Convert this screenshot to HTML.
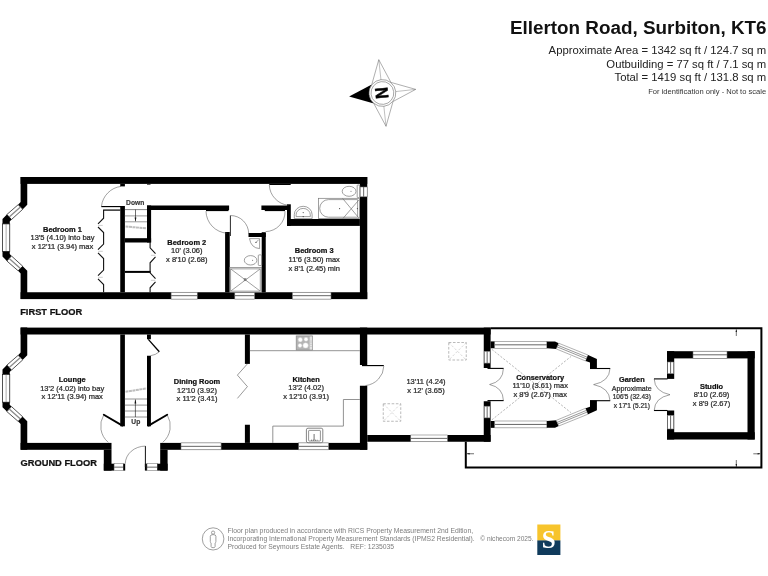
<!DOCTYPE html>
<html lang="en"><head><meta charset="utf-8"><title>Ellerton Road, Surbiton, KT6 - Floor plan</title>
<style>
html,body{margin:0;padding:0;background:#fff;}
body{width:768px;height:576px;overflow:hidden;font-family:"Liberation Sans",sans-serif;}
svg{display:block;filter:blur(0.38px);}
svg text{font-family:"Liberation Sans",sans-serif;}
svg text.serif{font-family:"Liberation Serif",serif;}
</style></head>
<body>
<svg width="768" height="576" viewBox="0 0 768 576">
<rect width="768" height="576" fill="#fff"/>
<g id="ff">
<polygon points="20.6,177 27.25,177 27.25,204.75 22.75,209.25 18.1,204.75 20.6,202" fill="#000"/><polygon points="18.10,204.75 22.75,209.25 11.50,219.50 6.90,214.50" fill="#fff" stroke="#1a1a1a" stroke-width="0.75"/><line x1="20.43" y1="207.00" x2="9.20" y2="217.00" stroke="#8a8a8a" stroke-width="1.3"/><polygon points="6.9,214.5 11.5,219.5 9.75,221.4 9.75,223.9 2.5,223.9 2.5,218.9" fill="#000"/><rect x="2.5" y="223.9" width="7.25" height="27.70" fill="#fff" stroke="#1a1a1a" stroke-width="0.75"/><line x1="6.12" y1="223.9" x2="6.12" y2="251.6" stroke="#777" stroke-width="0.6"/><polygon points="2.5,251.6 9.75,251.6 9.75,254.1 11.5,256 6.9,261 2.5,256.6" fill="#000"/><polygon points="6.90,261.00 11.50,256.00 22.75,266.25 18.10,270.75" fill="#fff" stroke="#1a1a1a" stroke-width="0.75"/><line x1="9.20" y1="258.50" x2="20.43" y2="268.50" stroke="#8a8a8a" stroke-width="1.3"/><polygon points="18.1,270.75 22.75,266.25 27.25,270.75 27.25,299.1 20.6,299.1 20.6,273.5" fill="#000"/>
<rect x="20.6" y="177" width="346.65" height="6.90" fill="#000"/>
<rect x="20.6" y="292.25" width="346.65" height="6.85" fill="#000"/>
<rect x="359.9" y="177" width="7.35" height="122.10" fill="#000"/>
<rect x="171.1" y="292.25" width="26.15" height="6.85" fill="#fff" stroke="#707070" stroke-width="0.55"/><line x1="171.1" y1="295.68" x2="197.25" y2="295.68" stroke="#555" stroke-width="0.9"/>
<rect x="234.8" y="292.25" width="19.80" height="6.85" fill="#fff" stroke="#707070" stroke-width="0.55"/><line x1="234.8" y1="295.68" x2="254.6" y2="295.68" stroke="#555" stroke-width="0.9"/>
<rect x="292.4" y="292.25" width="38.60" height="6.85" fill="#fff" stroke="#707070" stroke-width="0.55"/><line x1="292.4" y1="295.68" x2="331" y2="295.68" stroke="#555" stroke-width="0.9"/>
<rect x="360.1" y="187" width="7.10" height="9.80" fill="#fff" stroke="#707070" stroke-width="0.55"/><line x1="363.65" y1="187" x2="363.65" y2="196.8" stroke="#555" stroke-width="0.9"/>
<rect x="120.25" y="206" width="4.65" height="86.25" fill="#000"/>
<rect x="120.25" y="183.9" width="4.65" height="2.50" fill="#000"/>
<rect x="147" y="183.9" width="3.50" height="0.70" fill="#000"/>
<rect x="147" y="205.5" width="4.10" height="37.00" fill="#000"/>
<rect x="147" y="205.5" width="82.10" height="4.50" fill="#000"/>
<rect x="124.9" y="238.2" width="26.20" height="4.30" fill="#000"/>
<rect x="124.9" y="270.9" width="25.70" height="2.00" fill="#000"/>
<rect x="225.1" y="232" width="4.65" height="60.25" fill="#000"/>
<rect x="248.5" y="233" width="17.25" height="4.00" fill="#000"/>
<rect x="261.7" y="232.2" width="4.05" height="60.05" fill="#000"/>
<rect x="261.4" y="205.5" width="25.85" height="4.50" fill="#000"/>
<rect x="287" y="204.3" width="3.80" height="21.60" fill="#000"/>
<rect x="287" y="219" width="72.90" height="6.90" fill="#000"/>
<line x1="103.1" y1="210.1" x2="120.3" y2="210.1" stroke="#111" stroke-width="1.3"/>
<path d="M103.6,210.1 L103.6,218.20 L98.0,223.80 M98.0,227.00 L103.6,232.60 L103.6,244.10 L98.0,249.70 M98.0,252.90 L103.6,258.50 L103.6,270.10 L98.0,275.70 M98.0,278.90 L103.6,284.50 L103.6,292.25" fill="none" stroke="#111" stroke-width="1.1" stroke-linejoin="miter"/><line x1="98.28" y1="225.4" x2="102.76" y2="225.4" stroke="#999" stroke-width="0.5"/><line x1="98.28" y1="251.3" x2="102.76" y2="251.3" stroke="#999" stroke-width="0.5"/><line x1="98.28" y1="277.3" x2="102.76" y2="277.3" stroke="#999" stroke-width="0.5"/>
<path d="M150.1,242.25 L150.1,247.80 L155.5,253.70 M155.5,256.90 L150.1,262.80 L150.1,272.80 L155.5,278.70 M155.5,281.90 L150.1,287.80 L150.1,292.25" fill="none" stroke="#111" stroke-width="1.1" stroke-linejoin="miter"/><line x1="155.23" y1="255.3" x2="150.91" y2="255.3" stroke="#999" stroke-width="0.5"/><line x1="155.23" y1="280.3" x2="150.91" y2="280.3" stroke="#999" stroke-width="0.5"/>
<line x1="124.9" y1="209.6" x2="147" y2="209.6" stroke="#555" stroke-width="0.7"/>
<line x1="124.9" y1="215.9" x2="147" y2="215.9" stroke="#999" stroke-width="1"/>
<line x1="124.9" y1="221.8" x2="147" y2="221.8" stroke="#999" stroke-width="1"/>
<line x1="125.5" y1="226.6" x2="146.5" y2="228.2" stroke="#bdbdbd" stroke-width="2" stroke-dasharray="3 0.5"/>
<line x1="135.5" y1="209.6" x2="135.5" y2="221.2" stroke="#111" stroke-width="0.6"/>
<polygon points="134.6,217.6 136.4,217.6 135.5,221.6" fill="#111"/>
<rect x="101.3" y="206" width="19.7" height="1.15" fill="#000"/>
<path d="M101.5,206 A22.5,22.5 0 0 1 121,186.4" fill="none" stroke="#444" stroke-width="0.5"/>
<rect x="206" y="210" width="22.5" height="1.1" fill="#000"/>
<path d="M206,211.2 A22.5,22.5 0 0 0 227,233.2" fill="none" stroke="#444" stroke-width="0.5"/>
<line x1="230.4" y1="215.5" x2="230.4" y2="236" stroke="#111" stroke-width="0.9"/>
<path d="M230.6,215.5 A18.3,18.3 0 0 1 248.7,233.6" fill="none" stroke="#444" stroke-width="0.5"/>
<rect x="269.3" y="183.9" width="21.4" height="1.1" fill="#000"/>
<path d="M269.3,185 A21.4,21.4 0 0 0 288.5,205.3" fill="none" stroke="#444" stroke-width="0.5"/>
<rect x="264.8" y="210" width="20.2" height="1.1" fill="#000"/>
<path d="M285,211.2 A19.8,19.8 0 0 1 265.6,231.6" fill="none" stroke="#444" stroke-width="0.5"/>
<rect x="357.2" y="185" width="2.6" height="12.6" rx="0.6" fill="none" stroke="#777" stroke-width="0.7" fill="#fff"/>
<ellipse cx="349.1" cy="191.3" rx="6.9" ry="5" fill="none" stroke="#777" stroke-width="0.7" fill="#fff"/>
<circle cx="351" cy="191.2" r="0.5" fill="#555"/>
<rect x="318.4" y="198.3" width="41.1" height="20.2" fill="none" stroke="#777" stroke-width="0.7" fill="#fff"/>
<path d="M328.5,199.6 H357.6 V217.2 H328.5 A8.8,8.8 0 0 1 328.5,199.6 Z" fill="none" stroke="#777" stroke-width="0.7"/>
<path d="M342.5,198.3 L359.2,218.4 M359.2,199.6 L343,218.4" fill="none" stroke="#777" stroke-width="0.7"/>
<circle cx="339.6" cy="208.6" r="0.6" fill="#444"/><circle cx="357.4" cy="208.6" r="0.6" fill="#444"/>
<path d="M294.3,218.6 V214.5 A8.9,8.2 0 0 1 312.1,214.5 V218.6 Z" fill="none" stroke="#777" stroke-width="0.7" fill="#fff"/>
<path d="M296.1,216.6 V214.8 A7.1,6.4 0 0 1 310.3,214.8 V216.6 Z" fill="none" stroke="#777" stroke-width="0.7"/>
<circle cx="303.2" cy="212.6" r="0.55" fill="#444"/><circle cx="303.2" cy="216.6" r="0.7" fill="#444"/>
<path d="M249.5,238.6 H259.6 V248.6 Q251,248 249.5,238.6 Z" fill="none" stroke="#777" stroke-width="0.7" fill="#fff"/>
<circle cx="256" cy="242.4" r="0.6" fill="#444"/><line x1="256" y1="242.4" x2="258.8" y2="239.6" stroke="#444" stroke-width="0.5"/>
<rect x="258.3" y="254.9" width="3.4" height="10.6" rx="0.8" fill="none" stroke="#777" stroke-width="0.7" fill="#fff"/>
<ellipse cx="250.6" cy="260.3" rx="6.3" ry="4.7" fill="none" stroke="#777" stroke-width="0.7" fill="#fff"/>
<circle cx="252.6" cy="260.3" r="0.5" fill="#555"/>
<rect x="229.75" y="267.4" width="31.95" height="24.85" fill="none" stroke="#777" stroke-width="0.7" fill="#fff"/>
<rect x="230.7" y="268.9" width="29.5" height="22.2" fill="none" stroke="#777" stroke-width="0.7"/>
<path d="M230.7,268.9 L260.2,291.1 M260.2,268.9 L230.7,291.1" fill="none" stroke="#777" stroke-width="0.7"/>
<rect x="243.8" y="278.3" width="2.6" height="2.6" fill="#777"/>
</g>
<g id="gf">
<g transform="translate(0,150.6)"><polygon points="20.6,177 27.25,177 27.25,204.75 22.75,209.25 18.1,204.75 20.6,202" fill="#000"/><polygon points="18.10,204.75 22.75,209.25 11.50,219.50 6.90,214.50" fill="#fff" stroke="#1a1a1a" stroke-width="0.75"/><line x1="20.43" y1="207.00" x2="9.20" y2="217.00" stroke="#8a8a8a" stroke-width="1.3"/><polygon points="6.9,214.5 11.5,219.5 9.75,221.4 9.75,223.9 2.5,223.9 2.5,218.9" fill="#000"/><rect x="2.5" y="223.9" width="7.25" height="27.70" fill="#fff" stroke="#1a1a1a" stroke-width="0.75"/><line x1="6.12" y1="223.9" x2="6.12" y2="251.6" stroke="#777" stroke-width="0.6"/><polygon points="2.5,251.6 9.75,251.6 9.75,254.1 11.5,256 6.9,261 2.5,256.6" fill="#000"/><polygon points="6.90,261.00 11.50,256.00 22.75,266.25 18.10,270.75" fill="#fff" stroke="#1a1a1a" stroke-width="0.75"/><line x1="9.20" y1="258.50" x2="20.43" y2="268.50" stroke="#8a8a8a" stroke-width="1.3"/><polygon points="18.1,270.75 22.75,266.25 27.25,270.75 27.25,299.1 20.6,299.1 20.6,273.5" fill="#000"/></g>
<rect x="20.6" y="327.6" width="470.00" height="6.90" fill="#000"/>
<rect x="20.6" y="442.9" width="90.90" height="6.90" fill="#000"/>
<rect x="160.2" y="442.9" width="207.05" height="6.90" fill="#000"/>
<rect x="181" y="442.9" width="40.10" height="6.90" fill="#fff" stroke="#707070" stroke-width="0.55"/><line x1="181" y1="446.35" x2="221.1" y2="446.35" stroke="#555" stroke-width="0.9"/>
<rect x="298.7" y="442.9" width="29.90" height="6.90" fill="#fff" stroke="#707070" stroke-width="0.55"/><line x1="298.7" y1="446.35" x2="328.6" y2="446.35" stroke="#555" stroke-width="0.9"/>
<rect x="359.9" y="327.6" width="7.35" height="37.40" fill="#000"/>
<rect x="359.9" y="385.75" width="7.35" height="64.05" fill="#000"/>
<rect x="367.25" y="435" width="123.35" height="6.75" fill="#000"/>
<rect x="410.75" y="435" width="36.75" height="6.75" fill="#fff" stroke="#707070" stroke-width="0.55"/><line x1="410.75" y1="438.38" x2="447.5" y2="438.38" stroke="#555" stroke-width="0.9"/>
<rect x="483.75" y="327.6" width="6.85" height="40.40" fill="#000"/>
<rect x="483.75" y="401.25" width="6.85" height="40.50" fill="#000"/>
<rect x="484.3" y="351.3" width="5.70" height="11.80" fill="#fff" stroke="#707070" stroke-width="0.55"/><line x1="487.15" y1="351.3" x2="487.15" y2="363.1" stroke="#555" stroke-width="0.9"/>
<rect x="484.3" y="406.2" width="5.70" height="11.70" fill="#fff" stroke="#707070" stroke-width="0.55"/><line x1="487.15" y1="406.2" x2="487.15" y2="417.9" stroke="#555" stroke-width="0.9"/>
<rect x="490.6" y="341.4" width="4.15" height="6.85" fill="#000"/>
<rect x="490.6" y="421" width="4.15" height="6.85" fill="#000"/>
<rect x="120.25" y="334.5" width="4.65" height="91.80" fill="#000"/>
<rect x="147" y="334.5" width="3.90" height="4.75" fill="#000"/>
<rect x="147" y="355.75" width="3.90" height="70.55" fill="#000"/>
<rect x="244.9" y="334.5" width="5.00" height="29.40" fill="#000"/>
<rect x="244.9" y="424.75" width="5.00" height="18.15" fill="#000"/>
<rect x="103.8" y="449.8" width="7.70" height="20.80" fill="#000"/>
<rect x="160.2" y="449.8" width="7.40" height="20.80" fill="#000"/>
<rect x="103.8" y="463.7" width="10.30" height="6.90" fill="#000"/>
<rect x="114.1" y="463.7" width="9.20" height="6.90" fill="#fff" stroke="#707070" stroke-width="0.55"/><line x1="114.1" y1="467.15" x2="123.3" y2="467.15" stroke="#555" stroke-width="0.9"/>
<rect x="123.3" y="463.7" width="1.90" height="6.90" fill="#000"/>
<rect x="144.9" y="463.7" width="2.10" height="6.90" fill="#000"/>
<rect x="147" y="463.7" width="10.30" height="6.90" fill="#fff" stroke="#707070" stroke-width="0.55"/><line x1="147" y1="467.15" x2="157.3" y2="467.15" stroke="#555" stroke-width="0.9"/>
<rect x="157.3" y="463.7" width="10.30" height="6.90" fill="#000"/>
<line x1="145.4" y1="446.1" x2="145.4" y2="467" stroke="#111" stroke-width="1"/>
<path d="M125.3,463.6 A20.2,17.6 0 0 1 145.4,446.1" fill="none" stroke="#444" stroke-width="0.5"/>
<line x1="122.4" y1="425.6" x2="103.8" y2="414.8" stroke="#000" stroke-width="1.9" stroke-linecap="round"/>
<path d="M103.8,414.8 A21.6,21.6 0 0 0 108.3,442.4" fill="none" stroke="#444" stroke-width="0.5"/>
<line x1="148.6" y1="425.6" x2="167.2" y2="414.8" stroke="#000" stroke-width="1.9" stroke-linecap="round"/>
<path d="M167.2,414.8 A21.6,21.6 0 0 1 162.7,442.4" fill="none" stroke="#444" stroke-width="0.5"/>
<line x1="148.3" y1="339.4" x2="159.3" y2="351.8" stroke="#000" stroke-width="1.3"/>
<path d="M159.3,351.8 A16.5,16.5 0 0 1 150.6,355.7" fill="none" stroke="#444" stroke-width="0.5"/>
<line x1="124.9" y1="399" x2="147" y2="399" stroke="#777" stroke-width="0.8"/>
<line x1="124.9" y1="405.1" x2="147" y2="405.1" stroke="#777" stroke-width="0.8"/>
<line x1="124.9" y1="411" x2="147" y2="411" stroke="#777" stroke-width="0.8"/>
<line x1="124.9" y1="417" x2="147" y2="417" stroke="#777" stroke-width="0.8"/>
<line x1="125.5" y1="391.7" x2="146.4" y2="388.5" stroke="#bdbdbd" stroke-width="2" stroke-dasharray="3 0.5"/>
<line x1="135.4" y1="399.6" x2="135.4" y2="417" stroke="#111" stroke-width="0.6"/>
<polygon points="134.5,403.6 136.3,403.6 135.4,399.2" fill="#111"/>
<path d="M247.4,363.9 L237.4,375.1 L247.4,386.6 L237.4,398.4" fill="none" stroke="#555" stroke-width="0.6"/>
<line x1="249.9" y1="350.7" x2="359.9" y2="350.7" stroke="#777" stroke-width="0.8"/>
<path d="M359.9,399.5 H343.4 V426.1 H272.8 V442.9" fill="none" stroke="#777" stroke-width="0.8"/>
<rect x="296.2" y="335.9" width="16.4" height="14.2" fill="#b4b4b4" stroke="#8a8a8a" stroke-width="0.7"/>
<rect x="309.7" y="336.5" width="2.5" height="13" fill="#e4e4e4"/>
<circle cx="300.3" cy="339.7" r="2.2" fill="#fff" stroke="#ccc" stroke-width="0.5"/>
<circle cx="306" cy="339.3" r="2.0" fill="#fff" stroke="#ccc" stroke-width="0.5"/>
<circle cx="300.0" cy="345.5" r="2.0" fill="#fff" stroke="#ccc" stroke-width="0.5"/>
<circle cx="305.6" cy="345.4" r="2.7" fill="#fff" stroke="#ccc" stroke-width="0.5"/>
<circle cx="311" cy="341" r="0.4" fill="#777"/>
<circle cx="311" cy="342.8" r="0.4" fill="#777"/>
<circle cx="311" cy="344.6" r="0.4" fill="#777"/>
<circle cx="311" cy="346.4" r="0.4" fill="#777"/>
<rect x="306.4" y="428.2" width="16.4" height="14.5" rx="1.6" fill="#fff" stroke="#666" stroke-width="0.8"/>
<rect x="308.6" y="430.4" width="11.8" height="10.6" rx="0.6" fill="#fff" stroke="#666" stroke-width="0.7"/>
<line x1="314.1" y1="434" x2="314.1" y2="440" stroke="#333" stroke-width="0.7"/>
<line x1="311" y1="440.2" x2="317.5" y2="440.2" stroke="#333" stroke-width="0.7" stroke-dasharray="1.2 0.8"/>
<rect x="362" y="365" width="21.8" height="1.15" fill="#000"/>
<path d="M383.8,366.1 A21,20 0 0 1 365.5,385.6" fill="none" stroke="#444" stroke-width="0.5"/>
<rect x="448.75" y="342.5" width="17.5" height="17.5" fill="none" stroke="#8c8c8c" stroke-width="0.6" stroke-dasharray="2.6 1.6"/>
<path d="M448.75,342.5 l17.5,17.5 M466.25,342.5 l-17.5,17.5" fill="none" stroke="#b0b0b0" stroke-width="0.5" stroke-dasharray="2.4 1.8"/>
<rect x="383.25" y="403.75" width="17.5" height="17.5" fill="none" stroke="#8c8c8c" stroke-width="0.6" stroke-dasharray="2.6 1.6"/>
<path d="M383.25,403.75 l17.5,17.5 M400.75,403.75 l-17.5,17.5" fill="none" stroke="#b0b0b0" stroke-width="0.5" stroke-dasharray="2.4 1.8"/>
<line x1="487.5" y1="368.4" x2="503.6" y2="368.4" stroke="#000" stroke-width="1.1"/>
<line x1="487.5" y1="400.6" x2="503.6" y2="400.6" stroke="#000" stroke-width="1.1"/>
<path d="M503.4,368.4 Q503.2,381.5 489.6,384.5 Q503.2,387.6 503.4,400.6" fill="none" stroke="#444" stroke-width="0.5"/>
<rect x="494.75" y="341.4" width="52.15" height="6.85" fill="#fff" stroke="#707070" stroke-width="0.55"/><line x1="494.75" y1="344.82" x2="546.9" y2="344.82" stroke="#555" stroke-width="0.9"/>
<rect x="494.75" y="421" width="52.15" height="6.85" fill="#fff" stroke="#707070" stroke-width="0.55"/><line x1="494.75" y1="424.43" x2="546.9" y2="424.43" stroke="#555" stroke-width="0.9"/>
<polygon points="546.9,341.4 555,341.4 558.75,343.25 556.25,348.9 546.9,348.25" fill="#000"/>
<polygon points="558.75,343.25 556.25,348.90 585.60,361.00 588.10,355.10" fill="#fff" stroke="#707070" stroke-width="0.55"/><line x1="557.85" y1="345.28" x2="587.20" y2="357.22" stroke="#333" stroke-width="0.5"/><line x1="557.15" y1="346.87" x2="586.50" y2="358.88" stroke="#333" stroke-width="0.5"/>
<polygon points="588.1,355.1 596.9,358.9 596.9,368.7 590,368.7 590,362.6 585.6,361" fill="#000"/>
<polygon points="546.9,427.85 555,427.85 558.75,426 556.25,420.35 546.9,421" fill="#000"/>
<polygon points="558.75,426.00 556.25,420.35 585.60,408.25 588.10,414.15" fill="#fff" stroke="#707070" stroke-width="0.55"/><line x1="557.85" y1="423.97" x2="587.20" y2="412.03" stroke="#333" stroke-width="0.5"/><line x1="557.15" y1="422.38" x2="586.50" y2="410.37" stroke="#333" stroke-width="0.5"/>
<polygon points="588.1,414.15 596.9,410.35 596.9,400.55 590,400.55 590,406.65 585.6,408.25" fill="#000"/>
<line x1="590" y1="368.5" x2="610.2" y2="368.5" stroke="#000" stroke-width="1.1"/>
<line x1="590" y1="400.7" x2="610.2" y2="400.7" stroke="#000" stroke-width="1.1"/>
<path d="M610,368.5 Q609.5,381.5 593.6,384.6 Q609.5,387.8 610,400.7" fill="none" stroke="#444" stroke-width="0.5"/>
<path d="M491.8,349.3 L571,412.7 M491.8,419.9 L571,356.5" fill="none" stroke="#999" stroke-width="0.7" stroke-dasharray="2.2 1.5"/>
<path d="M490.6,328.15 H761.4 V467.4 H465.8 V441.75" fill="none" stroke="#000" stroke-width="2"/>
<path d="M736.3,329.5 V336 M753.3,453.8 H760 M736.3,460 V467 M467,453.75 H474" fill="none" stroke="#111" stroke-width="0.6"/>
<polygon points="735.6,332 737,332 736.3,329.2" fill="#111"/><polygon points="757.6,453.1 757.6,454.5 760.4,453.8" fill="#111"/><polygon points="735.6,464 737,464 736.3,466.8" fill="#111"/><polygon points="469.6,453.05 469.6,454.45 466.8,453.75" fill="#111"/>
<rect x="667" y="351.2" width="87.70" height="7.20" fill="#000"/>
<rect x="747.5" y="351.2" width="7.20" height="88.30" fill="#000"/>
<rect x="667" y="432.2" width="87.70" height="7.30" fill="#000"/>
<rect x="667" y="351.2" width="7.20" height="27.70" fill="#000"/>
<rect x="667" y="410.5" width="7.20" height="29.00" fill="#000"/>
<rect x="693" y="351.2" width="34.00" height="7.20" fill="#fff" stroke="#707070" stroke-width="0.55"/><line x1="693" y1="354.80" x2="727" y2="354.80" stroke="#555" stroke-width="0.9"/>
<rect x="667.6" y="362" width="6.00" height="11.70" fill="#fff" stroke="#707070" stroke-width="0.55"/><line x1="670.60" y1="362" x2="670.60" y2="373.7" stroke="#555" stroke-width="0.9"/>
<rect x="667.6" y="415.3" width="6.00" height="13.70" fill="#fff" stroke="#707070" stroke-width="0.55"/><line x1="670.60" y1="415.3" x2="670.60" y2="429" stroke="#555" stroke-width="0.9"/>
<line x1="654" y1="378.9" x2="667.5" y2="378.9" stroke="#000" stroke-width="1.1"/>
<line x1="654" y1="410.5" x2="667.5" y2="410.5" stroke="#000" stroke-width="1.1"/>
<path d="M654.2,378.9 Q654.6,391.6 670,394.7 Q654.6,397.8 654.2,410.5" fill="none" stroke="#444" stroke-width="0.5"/>
</g>
<g id="labels">
<text x="62.5" y="231.8" font-size="7.45" text-anchor="middle" fill="#111" font-weight="700" stroke="#111" stroke-width="0.24">Bedroom 1</text><text x="62.5" y="240.45000000000002" font-size="7.5" text-anchor="middle" fill="#2a2a2a" stroke="#2a2a2a" stroke-width="0.24">13'5 (4.10) into bay</text><text x="62.5" y="249.10000000000002" font-size="7.5" text-anchor="middle" fill="#2a2a2a" stroke="#2a2a2a" stroke-width="0.24">x 12'11 (3.94) max</text>
<text x="186.8" y="244.8" font-size="7.45" text-anchor="middle" fill="#111" font-weight="700" stroke="#111" stroke-width="0.24">Bedroom 2</text><text x="186.8" y="253.45000000000002" font-size="7.5" text-anchor="middle" fill="#2a2a2a" stroke="#2a2a2a" stroke-width="0.24">10' (3.06)</text><text x="186.8" y="262.1" font-size="7.5" text-anchor="middle" fill="#2a2a2a" stroke="#2a2a2a" stroke-width="0.24">x 8'10 (2.68)</text>
<text x="314.2" y="253.3" font-size="7.45" text-anchor="middle" fill="#111" font-weight="700" stroke="#111" stroke-width="0.24">Bedroom 3</text><text x="314.2" y="261.95" font-size="7.5" text-anchor="middle" fill="#2a2a2a" stroke="#2a2a2a" stroke-width="0.24">11'6 (3.50) max</text><text x="314.2" y="270.59999999999997" font-size="7.5" text-anchor="middle" fill="#2a2a2a" stroke="#2a2a2a" stroke-width="0.24">x 8'1 (2.45) min</text>
<text x="72.2" y="382" font-size="7.45" text-anchor="middle" fill="#111" font-weight="700" stroke="#111" stroke-width="0.24">Lounge</text><text x="72.2" y="390.65" font-size="7.5" text-anchor="middle" fill="#2a2a2a" stroke="#2a2a2a" stroke-width="0.24">13'2 (4.02) into bay</text><text x="72.2" y="399.29999999999995" font-size="7.5" text-anchor="middle" fill="#2a2a2a" stroke="#2a2a2a" stroke-width="0.24">x 12'11 (3.94) max</text>
<text x="197" y="383.9" font-size="7.45" text-anchor="middle" fill="#111" font-weight="700" stroke="#111" stroke-width="0.24">Dining Room</text><text x="197" y="392.54999999999995" font-size="7.5" text-anchor="middle" fill="#2a2a2a" stroke="#2a2a2a" stroke-width="0.24">12'10 (3.92)</text><text x="197" y="401.19999999999993" font-size="7.5" text-anchor="middle" fill="#2a2a2a" stroke="#2a2a2a" stroke-width="0.24">x 11'2 (3.41)</text>
<text x="306.1" y="381.7" font-size="7.45" text-anchor="middle" fill="#111" font-weight="700" stroke="#111" stroke-width="0.24">Kitchen</text><text x="306.1" y="390.34999999999997" font-size="7.5" text-anchor="middle" fill="#2a2a2a" stroke="#2a2a2a" stroke-width="0.24">13'2 (4.02)</text><text x="306.1" y="398.99999999999994" font-size="7.5" text-anchor="middle" fill="#2a2a2a" stroke="#2a2a2a" stroke-width="0.24">x 12'10 (3.91)</text>
<text x="426" y="384.3" font-size="7.5" text-anchor="middle" fill="#2a2a2a" stroke="#2a2a2a" stroke-width="0.24">13'11 (4.24)</text><text x="426" y="393.1" font-size="7.5" text-anchor="middle" fill="#2a2a2a" stroke="#2a2a2a" stroke-width="0.24">x 12' (3.65)</text>
<text x="540.2" y="379.8" font-size="7.45" text-anchor="middle" fill="#111" font-weight="700" stroke="#111" stroke-width="0.24">Conservatory</text><text x="540.2" y="388.45" font-size="7.5" text-anchor="middle" fill="#2a2a2a" stroke="#2a2a2a" stroke-width="0.24">11'10 (3.61) max</text><text x="540.2" y="397.09999999999997" font-size="7.5" text-anchor="middle" fill="#2a2a2a" stroke="#2a2a2a" stroke-width="0.24">x 8'9 (2.67) max</text>
<text x="631.8" y="381.8" font-size="7.35" text-anchor="middle" fill="#111" font-weight="700" stroke="#111" stroke-width="0.24">Garden</text>
<text x="631.8" y="390.6" font-size="7.5" text-anchor="middle" fill="#2a2a2a" textLength="39.9" lengthAdjust="spacingAndGlyphs" stroke="#2a2a2a" stroke-width="0.24">Approximate</text>
<text x="631.8" y="399.40000000000003" font-size="7.5" text-anchor="middle" fill="#2a2a2a" textLength="38.1" lengthAdjust="spacingAndGlyphs" stroke="#2a2a2a" stroke-width="0.24">106'5 (32.43)</text>
<text x="631.8" y="408.20000000000005" font-size="7.5" text-anchor="middle" fill="#2a2a2a" textLength="36.1" lengthAdjust="spacingAndGlyphs" stroke="#2a2a2a" stroke-width="0.24">x 17'1 (5.21)</text>
<text x="711.5" y="388.7" font-size="7.45" text-anchor="middle" fill="#111" font-weight="700" stroke="#111" stroke-width="0.24">Studio</text><text x="711.5" y="397.34999999999997" font-size="7.5" text-anchor="middle" fill="#2a2a2a" stroke="#2a2a2a" stroke-width="0.24">8'10 (2.69)</text><text x="711.5" y="405.99999999999994" font-size="7.5" text-anchor="middle" fill="#2a2a2a" stroke="#2a2a2a" stroke-width="0.24">x 8'9 (2.67)</text>
<text x="126.1" y="205.3" font-size="6.7" text-anchor="start" fill="#3a3a3a" font-weight="700" stroke="#3a3a3a" stroke-width="0.2">Down</text>
<text x="131.3" y="424.2" font-size="6.7" text-anchor="start" fill="#3a3a3a" font-weight="700" stroke="#3a3a3a" stroke-width="0.2">Up</text>
<text x="20.2" y="315.4" font-size="9.3" text-anchor="start" fill="#111" font-weight="700" stroke="#111" stroke-width="0.24">FIRST FLOOR</text>
<text x="20.5" y="466.3" font-size="9.3" text-anchor="start" fill="#111" font-weight="700" stroke="#111" stroke-width="0.24">GROUND FLOOR</text>
<text x="766.6" y="33.5" font-size="18.87" text-anchor="end" fill="#111" font-weight="700">Ellerton Road, Surbiton, KT6</text>
<text x="766.2" y="53.7" font-size="11.31" text-anchor="end" fill="#222" stroke="none">Approximate Area = 1342 sq ft / 124.7 sq m</text>
<text x="766.2" y="67.8" font-size="11.31" text-anchor="end" fill="#222" stroke="none">Outbuilding = 77 sq ft / 7.1 sq m</text>
<text x="766.2" y="81.2" font-size="11.31" text-anchor="end" fill="#222" stroke="none">Total = 1419 sq ft / 131.8 sq m</text>
<text x="766.1" y="94.4" font-size="7.55" text-anchor="end" fill="#333" stroke="none">For identification only - Not to scale</text>
<text x="227.5" y="532.8" font-size="6.8" text-anchor="start" fill="#7c7c7c" stroke="none">Floor plan produced in accordance with RICS Property Measurement 2nd Edition,</text>
<text x="227.5" y="541" font-size="6.8" text-anchor="start" fill="#7c7c7c" stroke="none">Incorporating International Property Measurement Standards (IPMS2 Residential).</text>
<text x="227.5" y="549.1" font-size="6.8" text-anchor="start" fill="#7c7c7c" stroke="none" xml:space="preserve">Produced for Seymours Estate Agents.   REF: 1235035</text>
<text x="480.3" y="541" font-size="6.6" text-anchor="start" fill="#7c7c7c" stroke="none">© nichecom 2025.</text>
</g>
<g id="icon" fill="none" stroke="#888" stroke-width="0.8">
<ellipse cx="213.1" cy="538.9" rx="10.8" ry="11.1"/>
<circle cx="213.1" cy="532.6" r="1.6"/>
<path d="M210.3,536.2 Q210.3,534.6 213.1,534.6 Q215.9,534.6 215.9,536.2 V541.5 Q215.9,542.5 215.1,543 V546.6 Q215.1,547.7 213.1,547.7 Q211.1,547.7 211.1,546.6 V543 Q210.3,542.5 210.3,541.5 Z"/>
</g>
<g id="logo">
<rect x="537.3" y="524.5" width="23.1" height="16" fill="#f7c42c"/>
<rect x="537.3" y="540.4" width="23.1" height="14.6" fill="#103b5c"/>
<text x="548.6" y="548" class="serif" font-size="25" font-weight="700" text-anchor="middle" fill="#fff">S</text>
</g>
<g id="compass" transform="translate(382.4 93) rotate(-96.2)">
<polygon points="0,-33.5 9.62,-9.62 -9.62,-9.62" fill="#000"/>
<g transform="rotate(90)"><polygon points="0,-33.5 9.62,-9.62 0,0 -9.62,-9.62" fill="#fff" stroke="#666" stroke-width="0.5"/><line x1="0" y1="-33.5" x2="0" y2="0" stroke="#777" stroke-width="0.45"/></g>
<g transform="rotate(180)"><polygon points="0,-33.5 9.62,-9.62 0,0 -9.62,-9.62" fill="#fff" stroke="#666" stroke-width="0.5"/><line x1="0" y1="-33.5" x2="0" y2="0" stroke="#777" stroke-width="0.45"/></g>
<g transform="rotate(270)"><polygon points="0,-33.5 9.62,-9.62 0,0 -9.62,-9.62" fill="#fff" stroke="#666" stroke-width="0.5"/><line x1="0" y1="-33.5" x2="0" y2="0" stroke="#777" stroke-width="0.45"/></g>
<circle r="13.4" fill="#fff" stroke="#666" stroke-width="0.55"/>
<circle r="11.4" fill="#fff" stroke="#666" stroke-width="0.55"/>
<text x="0" y="5.3" font-size="17" font-weight="700" text-anchor="middle" fill="#000" stroke="#000" stroke-width="0.5" transform="scale(0.93 1.06)">N</text>
</g>
</svg>
</body></html>
